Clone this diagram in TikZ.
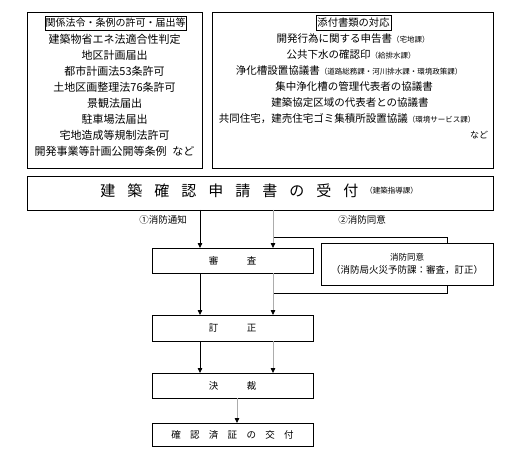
\documentclass[tikz,border=0pt]{standalone}
\usepackage{fontspec}
\setmainfont{Noto Sans CJK JP}
\usetikzlibrary{arrows.meta,backgrounds}
\newcommand\smtxt[1]{{\fontsize{7.5}{8}\selectfont #1}}
\begin{document}
\begin{tikzpicture}[x=1pt,y=-1pt,
  frame/.style={draw, line width=0.9pt, fill=white, inner sep=0pt, outer sep=0pt},
  txt/.style={inner sep=0pt, outer sep=0pt},
  listL/.style={txt, font=\fontsize{11}{13}\selectfont},
  listR/.style={txt, font=\fontsize{10.5}{13}\selectfont},
  boxtxt/.style={font=\fontsize{9.5}{11}\selectfont},
  arr/.style={-{Triangle[length=5pt,width=4.5pt,color=black]}, line width=0.8pt},
  garr/.style={arr, draw=gray!65},
  link/.style={line width=0.8pt}]
\useasboundingbox (0,0) rectangle (522,465);

% top boxes
\node[frame, minimum width=175pt, minimum height=156pt] (lbox) at (114.5,90) {};
\node[frame, minimum width=281pt, minimum height=156pt] (rbox) at (352.5,90) {};

\node[draw, line width=0.7pt, inner xsep=0.6pt, inner ysep=2.5pt, font=\fontsize{10}{12}\selectfont] (ltitle) at (115.5,23) {関係法令・条例の許可・届出等};
\node[draw, line width=0.7pt, inner xsep=1.5pt, inner ysep=2.5pt, font=\fontsize{10.3}{12}\selectfont] (rtitle) at (353.5,23) {添付書類の対応};

\foreach \t [count=\i] in {建築物省エネ法適合性判定, 地区計画届出, 都市計画法53条許可, 土地区画整理法76条許可, 景観法届出, 駐車場法届出, 宅地造成等規制法許可, {開発事業等計画公開等条例\hspace{6pt}など}}
  \node[listL] (la\i) at (114.5, {39+16.1*(\i-1)}) {\t};

\node[listR] (ra1) at (353,39) {開発行為に関する申告書\smtxt{（宅地課）}};
\node[listR] (ra2) at (351,55) {公共下水の確認印\smtxt{（給排水課）}};
\node[listR] (ra3) at (349,71) {浄化槽設置協議書\smtxt{（道路総務課・河川排水課・環境政策課）}};
\node[listR] (ra4) at (354,87) {集中浄化槽の管理代表者の協議書};
\node[listR] (ra5) at (350,103) {建築協定区域の代表者との協議書};
\node[listR] (ra6) at (347,119) {共同住宅，建売住宅ゴミ集積所設置協議\smtxt{（環境サービス課）}};
\node[listR, anchor=east, font=\fontsize{9}{11}\selectfont] (ra7) at (488,135) {など};

% main receipt box
\node[frame, minimum width=466pt, minimum height=34pt] (uketsuke) at (260,193) {};
\node[txt] (ukttxt) at (259,191) {{\fontsize{15}{15}\selectfont 建\hspace{12pt}築\hspace{12pt}確\hspace{12pt}認\hspace{12pt}申\hspace{12pt}請\hspace{12pt}書\hspace{12pt}の\hspace{12pt}受\hspace{12pt}付}\hspace{7pt}\raisebox{3pt}{\fontsize{7.5}{8}\selectfont （建築指導課）}};

% process boxes
\node[frame, boxtxt, minimum width=161pt, minimum height=25pt] (shinsa) at (232.5,260.5) {審\hspace{28.5pt}査};
\node[frame, boxtxt, minimum width=161pt, minimum height=26pt] (teisei) at (232.5,328) {訂\hspace{28.5pt}正};
\node[frame, boxtxt, minimum width=161pt, minimum height=25pt] (kessai) at (232.5,385.5) {決\hspace{28.5pt}裁};
\node[frame, boxtxt, minimum width=161pt, minimum height=23pt] (kakunin) at (232.5,434.5) {確\hspace{9.3pt}認\hspace{9.3pt}済\hspace{9.3pt}証\hspace{9.3pt}の\hspace{9.3pt}交\hspace{9.3pt}付};
\node[frame, minimum width=172pt, minimum height=42pt, align=center] (shobo) at (407,264) {{\fontsize{8.5}{10}\selectfont 消防同意}\\[1pt]{\fontsize{9.5}{11}\selectfont （消防局火災予防課：審査，訂正）}};

% labels
\node[txt, font=\fontsize{9.5}{11}\selectfont] (lab1) at (163,220) {①消防通知};
\node[txt, font=\fontsize{9.5}{11}\selectfont] (lab2) at (362,220) {②消防同意};

% helper coordinates
\coordinate (lx) at (200,0);
\coordinate (bx) at (237,0);
\coordinate (j1) at (273,237);
\coordinate (c1) at (447,237);
\coordinate (c2) at (447,293);
\coordinate (j2) at (273,293);

% fire-department consent loop (behind the box)
\begin{pgfonlayer}{background}
\draw[link] (j1) -- (c1) -- (c2) -- (j2);
\end{pgfonlayer}

% left (black) arrows
\draw[arr] (uketsuke.south -| lx) -- (shinsa.north -| lx);
\draw[arr] (shinsa.south -| lx) -- (teisei.north -| lx);
\draw[arr] (teisei.south -| lx) -- (kessai.north -| lx);
% right (gray) arrows
\draw[garr] (uketsuke.south -| j1) -- (shinsa.north -| j1);
\draw[garr] (shinsa.south -| j1) -- (teisei.north -| j1);
\draw[garr] (teisei.south -| j1) -- (kessai.north -| j1);
% final arrow
\draw[garr] (kessai.south -| bx) -- (kakunin.north -| bx);
\end{tikzpicture}
\end{document}
